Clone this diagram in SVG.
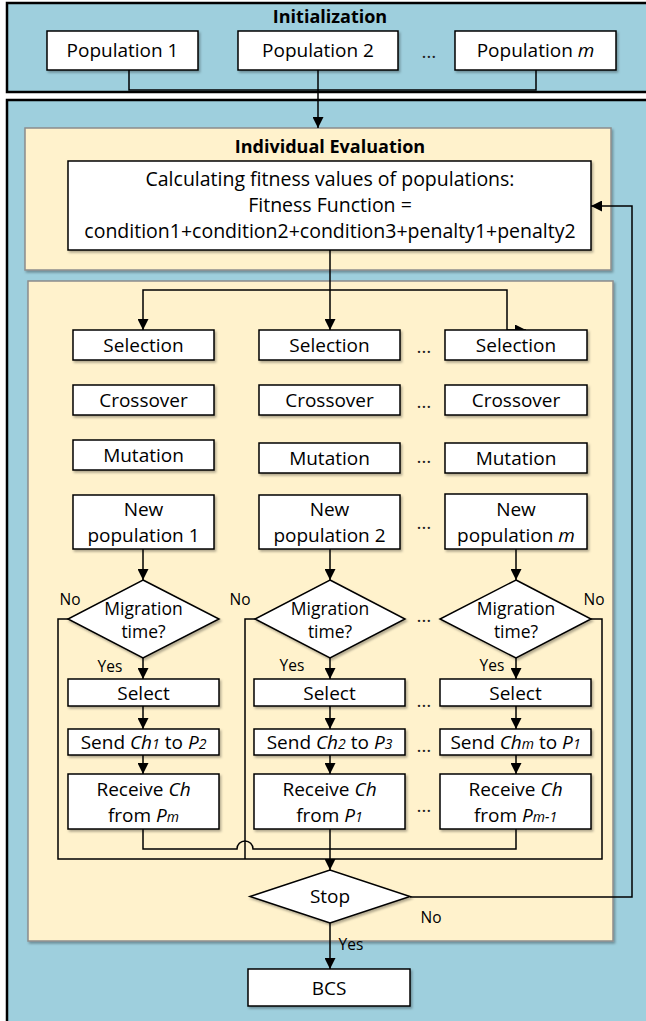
<svg xmlns="http://www.w3.org/2000/svg" width="646" height="1021" viewBox="0 0 646 1021">
<defs>
<style>
.panel{fill:#9ECFDD;stroke:#000;stroke-width:2.5}
.sub{fill:#FFF2CC;stroke:#8c8c8c;stroke-width:1.5}
.box{fill:#fff;stroke:#000;stroke-width:1.5}
.c{fill:none;stroke:#000;stroke-width:1.5}
.t{font-family:"Open Sans","Liberation Sans",sans-serif;font-size:19px;text-anchor:middle;fill:#000}
.b{font-weight:bold;font-size:18px}
.d{font-size:17.5px}
.l{font-size:15.5px;text-anchor:middle}
.dots{fill:#222}
.i{font-style:italic}
.s{font-style:italic;font-size:14px}
</style>
<marker id="ah" viewBox="0 0 10 10" refX="10" refY="5" markerWidth="11" markerHeight="11" markerUnits="userSpaceOnUse" orient="auto">
<path d="M0,0 L10,5 L0,10 z" fill="#000"/>
</marker>
<filter id="sh" x="-10%" y="-10%" width="130%" height="130%">
<feDropShadow dx="1.5" dy="2" stdDeviation="1.2" flood-color="#000" flood-opacity="0.3"/>
</filter>
</defs>

<g id="panel-init">
<rect class="panel" x="7" y="3" width="650" height="89"/>
<text class="t b" x="330" y="23">Initialization</text>
</g>
<g id="panel-main">
<rect class="panel" x="7" y="100" width="650" height="940"/>
</g>
<g id="panel-eval">
<rect class="sub" x="25" y="128" width="586" height="142" filter="url(#sh)"/>
<text class="t b" x="330" y="153">Individual Evaluation</text>
</g>
<g id="panel-ga">
<rect class="sub" x="28" y="281" width="585" height="660" filter="url(#sh)"/>
</g>

<g id="connectors">
<path class="c" d="M129,70 V90 H536 V70"/>
<path class="c" d="M318,70 V128" marker-end="url(#ah)"/>
<path class="c" d="M330,250 V330" marker-end="url(#ah)"/>
<path class="c" d="M330,290 H143 V330" marker-end="url(#ah)"/>
<path class="c" d="M330,290 H507 V330 H526" marker-end="url(#ah)"/>
<path class="c" d="M143,549 V580" marker-end="url(#ah)"/>
<path class="c" d="M330,549 V580" marker-end="url(#ah)"/>
<path class="c" d="M516,549 V580" marker-end="url(#ah)"/>
<path class="c" d="M143,658 V679" marker-end="url(#ah)"/>
<path class="c" d="M330,658 V679" marker-end="url(#ah)"/>
<path class="c" d="M516,658 V679" marker-end="url(#ah)"/>
<path class="c" d="M143,706 V729" marker-end="url(#ah)"/>
<path class="c" d="M330,706 V729" marker-end="url(#ah)"/>
<path class="c" d="M516,706 V729" marker-end="url(#ah)"/>
<path class="c" d="M143,755 V774" marker-end="url(#ah)"/>
<path class="c" d="M330,755 V774" marker-end="url(#ah)"/>
<path class="c" d="M516,755 V774" marker-end="url(#ah)"/>
<path class="c" d="M68,619 H58 V859 H330"/>
<path class="c" d="M255,619 H245 V859"/>
<path class="c" d="M590,619 H602 V859 H330"/>
<path class="c" d="M143,829 V849 H237 A8,8 0 0 1 253,849 H330"/>
<path class="c" d="M516,829 V849 H330"/>
<path class="c" d="M330,829 V870" marker-end="url(#ah)"/>
<path class="c" d="M410,897 H632 V206 H591" marker-end="url(#ah)"/>
<path class="c" d="M330,923 V969" marker-end="url(#ah)"/>
</g>

<g id="pop1"><rect class="box" x="47" y="31" width="151" height="39" filter="url(#sh)"/><text class="t" x="122.5" y="57">Population 1</text></g>
<g id="pop2"><rect class="box" x="238" y="31" width="160" height="39" filter="url(#sh)"/><text class="t" x="318" y="57">Population 2</text></g>
<text class="t dots" x="429" y="58">…</text>
<g id="popm"><rect class="box" x="455" y="31" width="161" height="39" filter="url(#sh)"/><text class="t" x="535.5" y="57">Population <tspan class="i">m</tspan></text></g>

<g id="fitness"><rect class="box" x="68" y="161" width="523" height="89" filter="url(#sh)"/>
<text class="t" x="330" y="186" style="font-size:19.5px">Calculating fitness values of populations:</text>
<text class="t" x="330" y="212" style="font-size:19.5px">Fitness Function =</text>
<text class="t" x="330" y="238" style="font-size:19.5px">condition1+condition2+condition3+penalty1+penalty2</text>
</g>

<g id="sel1"><rect class="box" x="73" y="330" width="141" height="30" filter="url(#sh)"/><text class="t" x="143.5" y="352">Selection</text></g>
<g id="sel2"><rect class="box" x="259" y="330" width="141" height="30" filter="url(#sh)"/><text class="t" x="329.5" y="352">Selection</text></g>
<g id="selm"><rect class="box" x="445" y="330" width="142" height="30" filter="url(#sh)"/><text class="t" x="516" y="352">Selection</text></g>
<text class="t dots" x="424" y="353">…</text>

<g id="cross1"><rect class="box" x="73" y="385" width="141" height="30" filter="url(#sh)"/><text class="t" x="143.5" y="407">Crossover</text></g>
<g id="cross2"><rect class="box" x="259" y="385" width="141" height="30" filter="url(#sh)"/><text class="t" x="329.5" y="407">Crossover</text></g>
<g id="crossm"><rect class="box" x="445" y="385" width="142" height="30" filter="url(#sh)"/><text class="t" x="516" y="407">Crossover</text></g>
<text class="t dots" x="424" y="408">…</text>

<g id="mut1"><rect class="box" x="73" y="440" width="141" height="30" filter="url(#sh)"/><text class="t" x="143.5" y="462">Mutation</text></g>
<g id="mut2"><rect class="box" x="259" y="443" width="141" height="30" filter="url(#sh)"/><text class="t" x="329.5" y="465">Mutation</text></g>
<g id="mutm"><rect class="box" x="445" y="443" width="142" height="30" filter="url(#sh)"/><text class="t" x="516" y="465">Mutation</text></g>
<text class="t dots" x="424" y="463">…</text>

<g id="new1"><rect class="box" x="73" y="495" width="141" height="54" filter="url(#sh)"/><text class="t" x="143.5" y="516">New</text><text class="t" x="143.5" y="542">population 1</text></g>
<g id="new2"><rect class="box" x="259" y="495" width="141" height="54" filter="url(#sh)"/><text class="t" x="329.5" y="516">New</text><text class="t" x="329.5" y="542">population 2</text></g>
<g id="newm"><rect class="box" x="445" y="494" width="142" height="55" filter="url(#sh)"/><text class="t" x="516" y="516">New</text><text class="t" x="516" y="542">population <tspan class="i">m</tspan></text></g>
<text class="t dots" x="424" y="529">…</text>

<g id="mig1"><polygon class="box" points="143,580 219,619 143,658 68,619" filter="url(#sh)"/><text class="t d" x="143.5" y="615">Migration</text><text class="t d" x="143.5" y="638">time?</text></g>
<g id="mig2"><polygon class="box" points="330,580 405,619 330,658 255,619" filter="url(#sh)"/><text class="t d" x="330" y="615">Migration</text><text class="t d" x="330" y="638">time?</text></g>
<g id="migm"><polygon class="box" points="516,580 591,619 516,658 440,619" filter="url(#sh)"/><text class="t d" x="516" y="615">Migration</text><text class="t d" x="516" y="638">time?</text></g>
<text class="t dots" x="424" y="622">…</text>

<g id="labels">
<text class="t l" x="70" y="605">No</text>
<text class="t l" x="240" y="605">No</text>
<text class="t l" x="594" y="605">No</text>
<text class="t l" x="110" y="672">Yes</text>
<text class="t l" x="292" y="671">Yes</text>
<text class="t l" x="492" y="671">Yes</text>
<text class="t l" x="431" y="923">No</text>
<text class="t l" x="351" y="950">Yes</text>
</g>

<g id="select1"><rect class="box" x="68" y="679" width="151" height="27" filter="url(#sh)"/><text class="t" x="143.5" y="700">Select</text></g>
<g id="select2"><rect class="box" x="254" y="679" width="151" height="27" filter="url(#sh)"/><text class="t" x="329.5" y="700">Select</text></g>
<g id="selectm"><rect class="box" x="440" y="679" width="151" height="27" filter="url(#sh)"/><text class="t" x="515.5" y="700">Select</text></g>
<text class="t dots" x="424" y="707">…</text>

<g id="send1"><rect class="box" x="68" y="729" width="151" height="26" filter="url(#sh)"/><text class="t" x="143.5" y="749">Send <tspan class="i">Ch</tspan><tspan class="s">1</tspan> to <tspan class="i">P</tspan><tspan class="s">2</tspan></text></g>
<g id="send2"><rect class="box" x="254" y="729" width="151" height="26" filter="url(#sh)"/><text class="t" x="329.5" y="749">Send <tspan class="i">Ch</tspan><tspan class="s">2</tspan> to <tspan class="i">P</tspan><tspan class="s">3</tspan></text></g>
<g id="sendm"><rect class="box" x="440" y="729" width="151" height="26" filter="url(#sh)"/><text class="t" x="515.5" y="749">Send <tspan class="i">Ch</tspan><tspan class="s">m</tspan> to <tspan class="i">P</tspan><tspan class="s">1</tspan></text></g>
<text class="t dots" x="424" y="752">…</text>

<g id="recv1"><rect class="box" x="68" y="774" width="151" height="55" filter="url(#sh)"/><text class="t" x="143.5" y="796">Receive <tspan class="i">Ch</tspan></text><text class="t" x="143.5" y="822">from <tspan class="i">P</tspan><tspan class="s">m</tspan></text></g>
<g id="recv2"><rect class="box" x="254" y="774" width="151" height="55" filter="url(#sh)"/><text class="t" x="329.5" y="796">Receive <tspan class="i">Ch</tspan></text><text class="t" x="329.5" y="822">from <tspan class="i">P</tspan><tspan class="s">1</tspan></text></g>
<g id="recvm"><rect class="box" x="440" y="774" width="151" height="55" filter="url(#sh)"/><text class="t" x="515.5" y="796">Receive <tspan class="i">Ch</tspan></text><text class="t" x="515.5" y="822">from <tspan class="i">P</tspan><tspan class="s">m-1</tspan></text></g>
<text class="t dots" x="424" y="812">…</text>

<g id="stop"><polygon class="box" points="250,896.5 330,870 410,896.5 330,923" filter="url(#sh)"/><text class="t" x="330" y="903">Stop</text></g>
<g id="bcs"><rect class="box" x="248" y="969" width="162" height="37" filter="url(#sh)"/><text class="t" x="329" y="995">BCS</text></g>
</svg>
